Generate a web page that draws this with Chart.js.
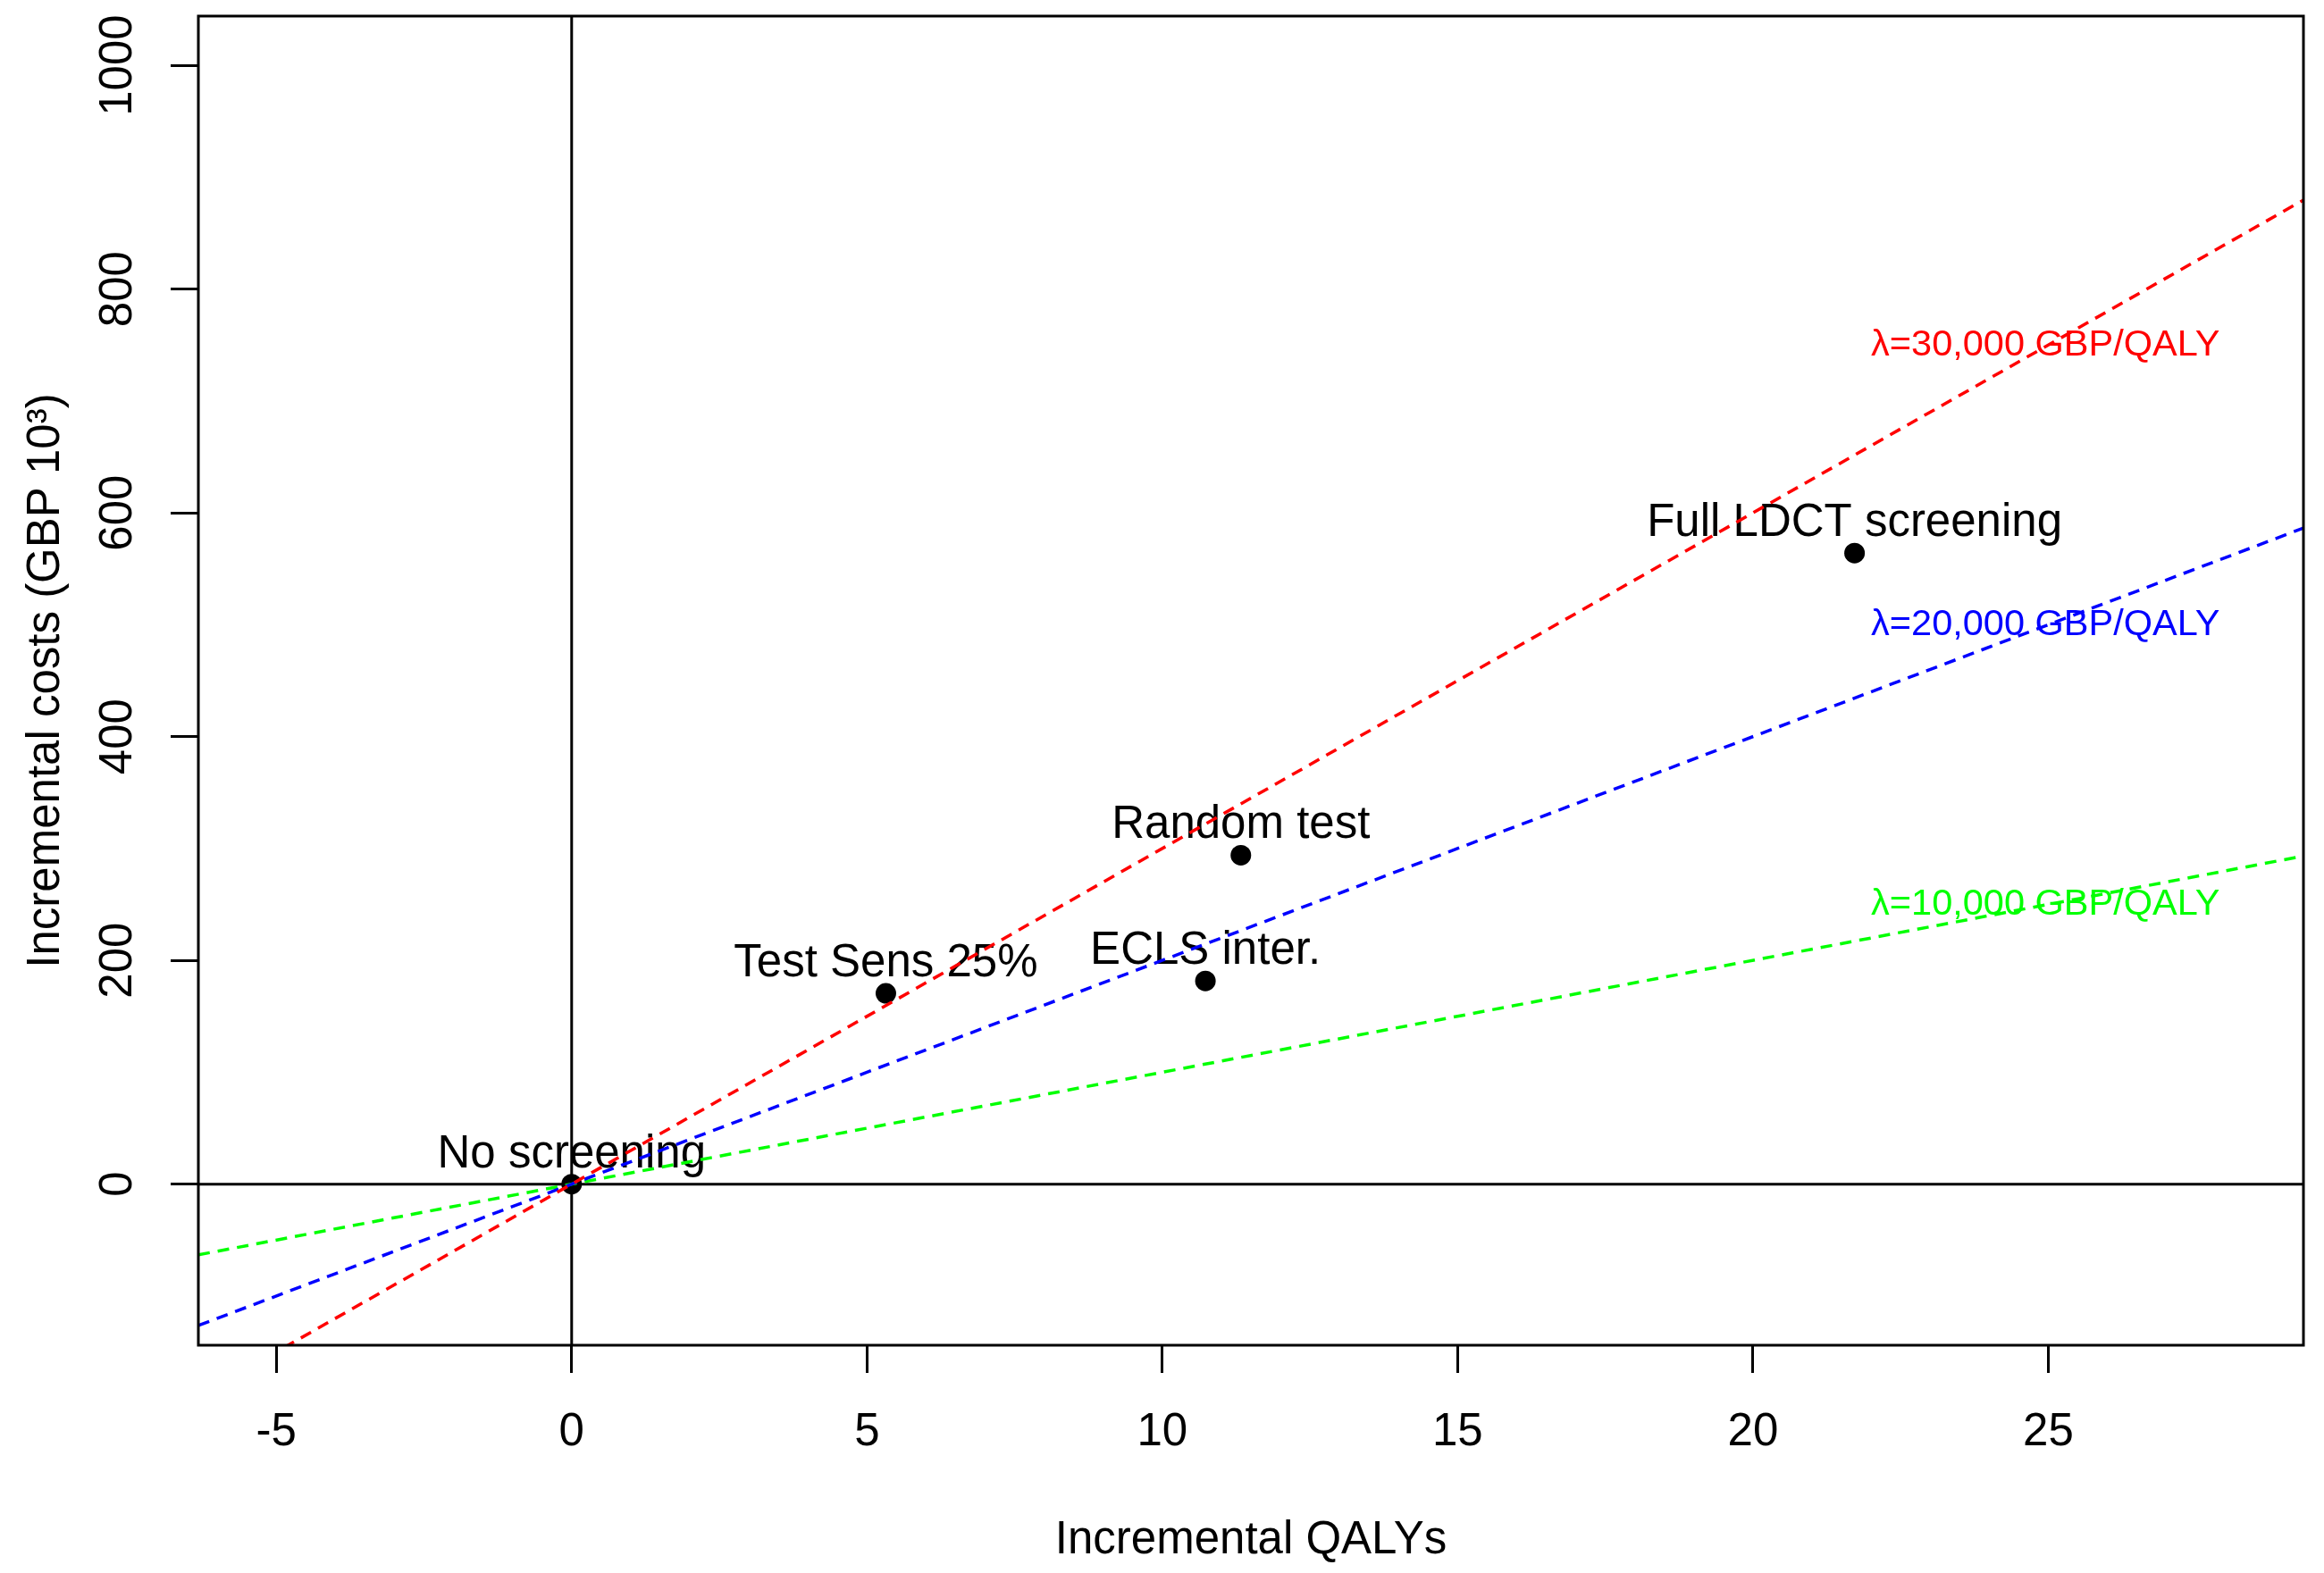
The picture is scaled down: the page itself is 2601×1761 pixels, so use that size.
<!DOCTYPE html>
<html>
<head>
<meta charset="utf-8">
<script src="https://cdn.jsdelivr.net/npm/chart.js@4.4.0/dist/chart.umd.min.js"></script>
<style>
  html, body { margin: 0; padding: 0; background: #fff; }
  #wrap { width: 2601px; height: 1761px; }
</style>
</head>
<body>
<div id="wrap"><canvas id="cePlane"></canvas></div>
<script>
// strategies on the cost-effectiveness plane (incremental vs no screening)
const strategies = ['No screening', 'Test Sens 25%', 'Random test', 'ECLS inter.', 'Full LDCT screening'];
const qalys = [0, 5.32, 11.33, 10.73, 21.72];
const costs = [0, 170.5, 294, 181.6, 564];

// willingness-to-pay thresholds (thousand GBP per QALY)
const wtp = [30, 20, 10];
const wtpLabels = ['λ=30,000 GBP/QALY', 'λ=20,000 GBP/QALY', 'λ=10,000 GBP/QALY'];
const wtpLabelX = 22;
const wtpLabelY = [750, 500, 250];
const lineColors = ['#ff0000', '#0000ff', '#00ff00'];

const xTicks = [-5, 0, 5, 10, 15, 20, 25];
const yTicks = [0, 200, 400, 600, 800, 1000];
const xRange = [-6.32, 29.32];
const yRange = [-144, 1044];

const FONT = '"Liberation Sans", Arial, Helvetica, sans-serif';
Chart.defaults.font.family = FONT;
Chart.defaults.color = '#000';

const cePlanePlugin = {
    id: 'cePlaneExtras',
    beforeDatasetsDraw(chart) {
        const { ctx, chartArea: a, scales: { x, y } } = chart;
        ctx.save();
        // reference lines through the origin
        const x0 = x.getPixelForValue(0);
        const y0 = y.getPixelForValue(0);
        ctx.strokeStyle = '#000';
        ctx.lineWidth = 3;
        ctx.beginPath();
        ctx.moveTo(a.left, y0); ctx.lineTo(a.right, y0);
        ctx.moveTo(x0, a.top); ctx.lineTo(x0, a.bottom);
        ctx.stroke();

        // strategy names above the points
        ctx.fillStyle = '#000';
        ctx.font = '51px ' + FONT;
        ctx.textAlign = 'center';
        ctx.textBaseline = 'alphabetic';
        strategies.forEach((s, i) => {
            ctx.fillText(s, x.getPixelForValue(qalys[i]), y.getPixelForValue(costs[i]) - 19);
        });

        // threshold labels
        ctx.font = '41.5px ' + FONT;
        ctx.textAlign = 'left';
        ctx.textBaseline = 'middle';
        wtpLabels.forEach((t, i) => {
            ctx.fillStyle = lineColors[i];
            ctx.fillText(t, x.getPixelForValue(wtpLabelX), y.getPixelForValue(wtpLabelY[i]));
        });
        ctx.restore();
    },
    afterDraw(chart) {
        const { ctx, chartArea: a, scales: { y } } = chart;
        ctx.save();
        ctx.strokeStyle = '#000';
        ctx.lineWidth = 3;
        ctx.strokeRect(a.left, a.top, a.right - a.left, a.bottom - a.top);

        // y tick labels, rotated like R's default las=0
        ctx.fillStyle = '#000';
        ctx.font = '51px ' + FONT;
        ctx.textAlign = 'center';
        ctx.textBaseline = 'alphabetic';
        yTicks.forEach(v => {
            ctx.save();
            ctx.translate(130, y.getPixelForValue(v));
            ctx.rotate(-Math.PI / 2);
            ctx.fillText(String(v), 0, 17);
            ctx.restore();
        });
        ctx.restore();
    }
};

const tickGrid = { display: true, drawOnChartArea: false, drawTicks: true, tickLength: 31, tickWidth: 3, tickColor: '#000' };

new Chart(document.getElementById('cePlane'), {
    type: 'scatter',
    data: {
        datasets: [
            {
                label: 'strategies',
                data: qalys.map((q, i) => ({ x: q, y: costs[i] })),
                pointRadius: 11.5,
                pointBorderWidth: 0,
                backgroundColor: '#000',
                order: 10
            },
            ...wtp.map((l, i) => ({
                type: 'line',
                label: wtpLabels[i],
                data: xRange.map(q => ({ x: q, y: l * q })),
                borderColor: lineColors[i],
                borderWidth: 3.5,
                borderDash: [13, 9],
                pointRadius: 0,
                fill: false,
                tension: 0,
                order: i
            }))
        ]
    },
    options: {
        responsive: true,
        maintainAspectRatio: false,
        devicePixelRatio: 1,
        animation: false,
        layout: { padding: { top: 18, right: 23, left: 0, bottom: 0 } },
        plugins: { legend: { display: false }, tooltip: { enabled: false } },
        scales: {
            x: {
                type: 'linear',
                min: xRange[0],
                max: xRange[1],
                afterBuildTicks: s => { s.ticks = xTicks.map(v => ({ value: v })); },
                afterFit: s => { s.height = 255; },
                grid: tickGrid,
                border: { display: false },
                ticks: { color: '#000', font: { size: 51 }, padding: 36, maxRotation: 0, autoSkip: false, callback: v => String(v) },
                title: { display: true, text: 'Incremental QALYs', color: '#000', font: { size: 51 }, padding: { top: 0, bottom: 5 } }
            },
            y: {
                type: 'linear',
                min: yRange[0],
                max: yRange[1],
                afterBuildTicks: s => { s.ticks = yTicks.map(v => ({ value: v })); },
                afterFit: s => { s.width = 222; },
                grid: tickGrid,
                border: { display: false },
                ticks: { display: false },
                title: { display: true, text: 'Incremental costs (GBP 10³)', color: '#000', font: { size: 51 }, padding: { top: 21, bottom: 0 } }
            }
        }
    },
    plugins: [cePlanePlugin]
});
</script>
</body>
</html>
